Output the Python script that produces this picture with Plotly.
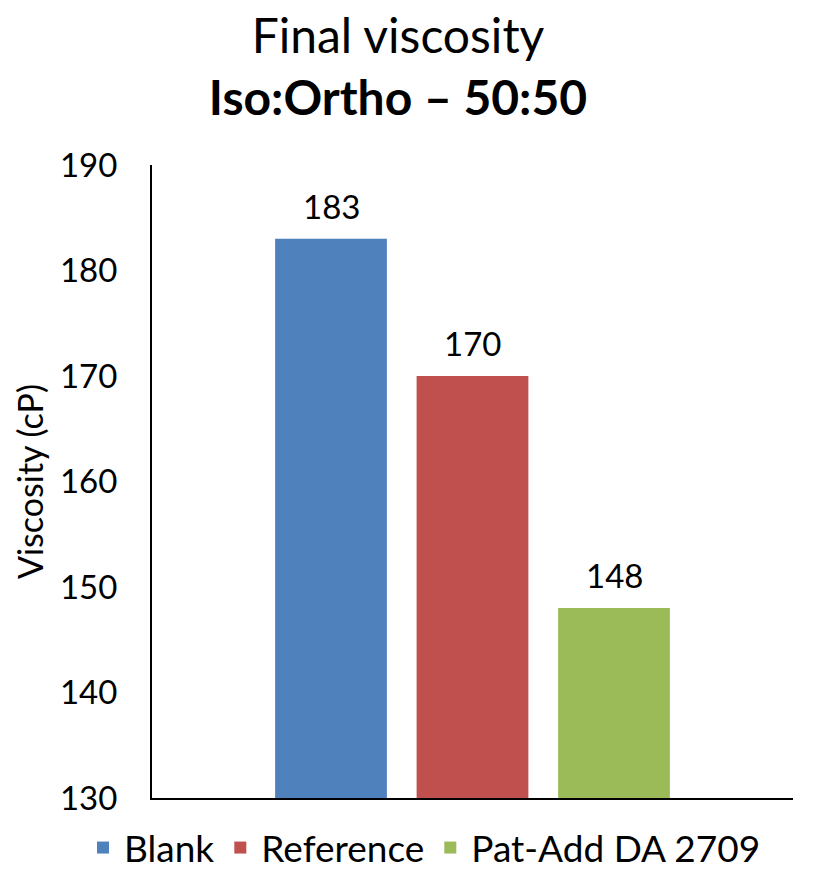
import plotly.graph_objects as go

# Final viscosity per formulation (cP)
series_names = ["Blank", "Reference", "Pat-Add DA 2709"]
viscosity = [183, 170, 148]
colors = ["#4F81BD", "#C0504D", "#9BBB59"]

y_ticks = [130, 140, 150, 160, 170, 180, 190]

FONT = "Lato, Calibri, Carlito, sans-serif"

# plot area in pixels
L, R, T, B = 152, 23, 165, 72
PW, PH = 816 - L - R, 870 - T - B

fig = go.Figure()
for name, val, col in zip(series_names, viscosity, colors):
    fig.add_trace(go.Bar(
        x=[name], y=[val], name=name,
        marker=dict(color=col, line=dict(width=0)),
        width=0.79,
    ))
    fig.add_annotation(
        x=name, y=val, text=str(val), showarrow=False,
        yanchor="middle", yshift=33,
        font=dict(family=FONT, size=33, color="#000000"),
    )

fig.update_layout(
    width=816, height=870,
    paper_bgcolor="white", plot_bgcolor="white",
    margin=dict(l=L, r=R, t=T, b=B, autoexpand=False),
    barmode="overlay",
    font=dict(family=FONT, color="#000000"),
    title=dict(
        text="Final viscosity<br><b>Iso:Ortho – 50:50</b>",
        x=398 / 816, xanchor="center", xref="container",
        y=1 - 53 / 870, yanchor="middle", yref="container",
        font=dict(family=FONT, size=48, color="#000000"),
    ),
    xaxis=dict(
        range=[-1.265, 3.265], showticklabels=False, ticks="",
        showline=True, linecolor="#000000", linewidth=2,
        showgrid=False, zeroline=False,
    ),
    yaxis=dict(
        range=[130, 190], tickvals=y_ticks, ticks="",
        showline=True, linecolor="#000000", linewidth=2,
        showgrid=False, zeroline=False,
        ticklabelstandoff=26,
        tickfont=dict(family=FONT, size=33, color="#000000"),
        title=dict(text="Viscosity (cP)", standoff=6,
                   font=dict(family=FONT, size=34, color="#000000")),
    ),
    legend=dict(
        orientation="h",
        x=(82 - L) / PW, xanchor="left", xref="paper",
        y=-(848 - (T + PH)) / PH, yanchor="middle", yref="paper",
        font=dict(family=FONT, size=37, color="#000000"),
        itemwidth=32, tracegroupgap=0,
    ),
)

fig.write_html("out.html")
